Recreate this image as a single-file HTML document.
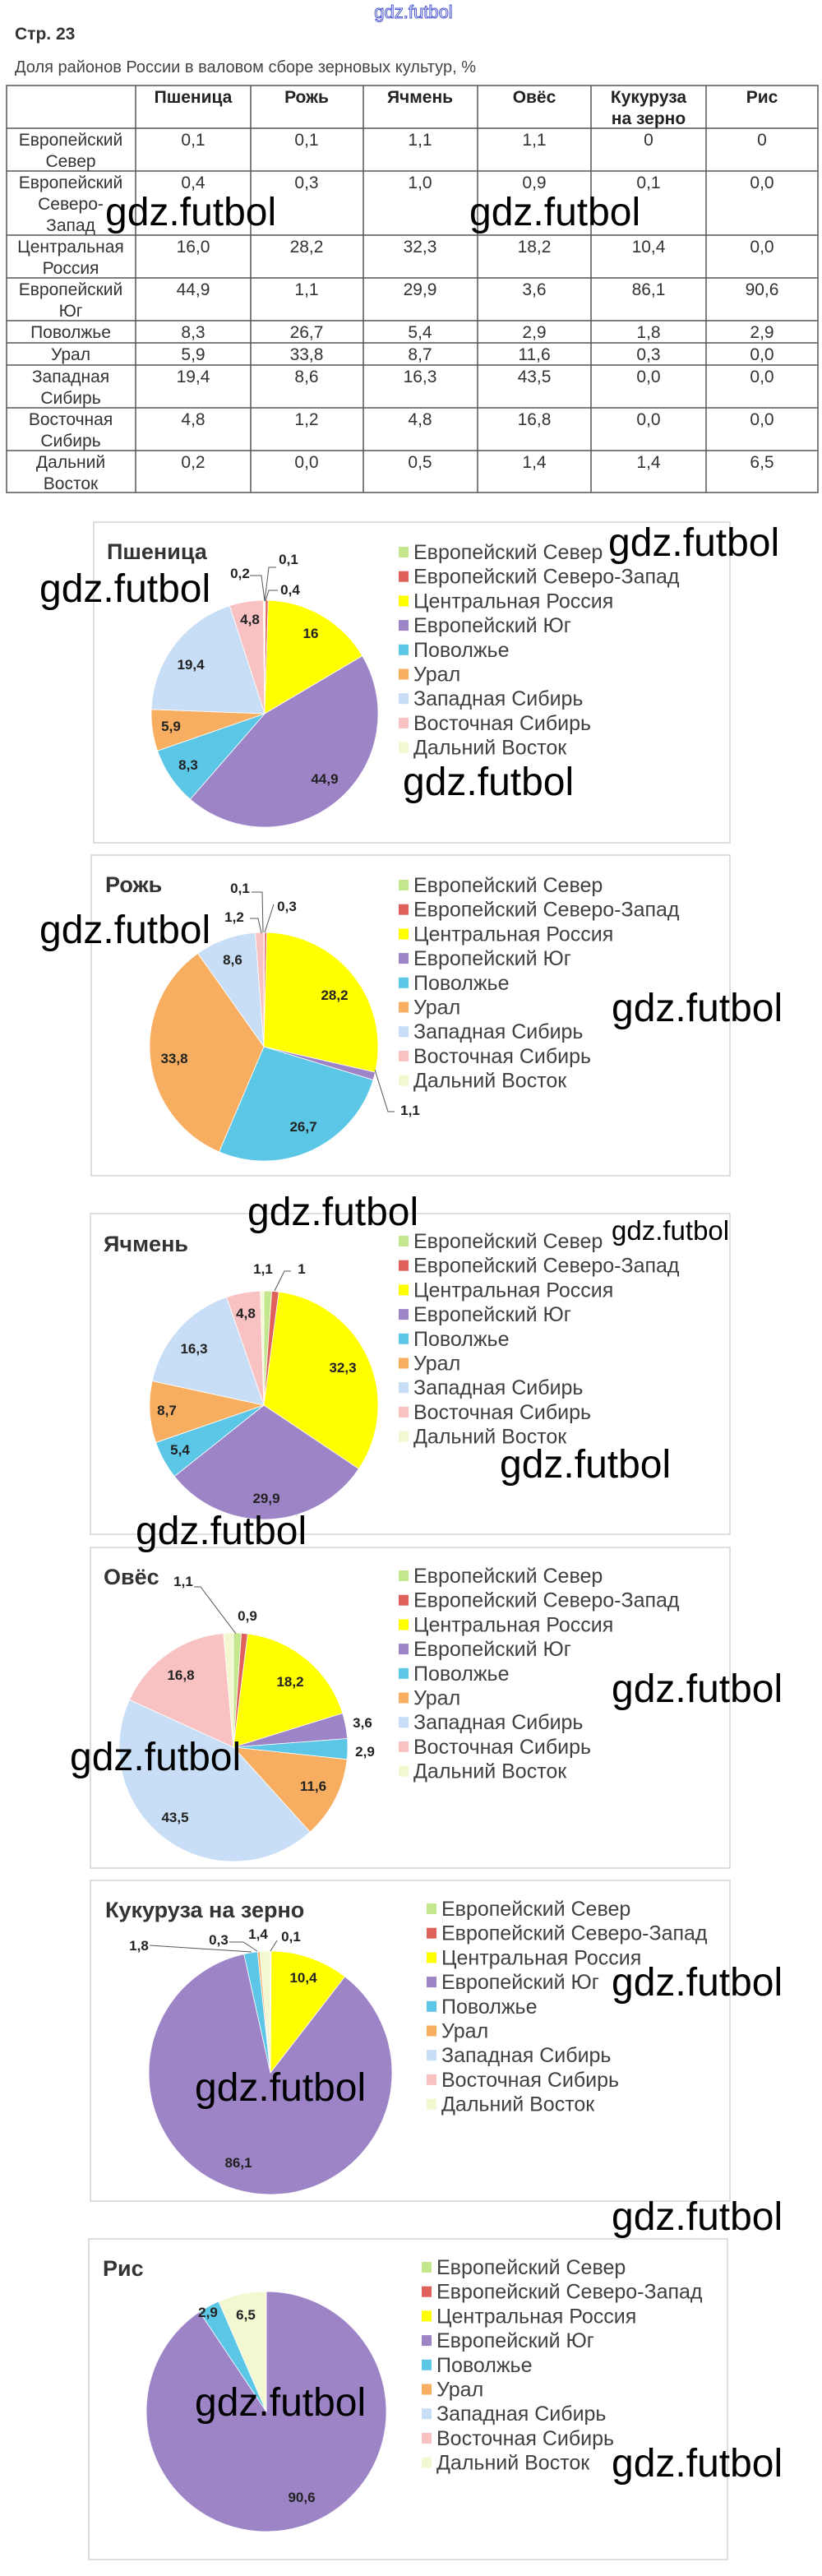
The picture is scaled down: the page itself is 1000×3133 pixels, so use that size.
<!DOCTYPE html>
<html><head><meta charset="utf-8">
<style>
html,body{margin:0;padding:0;background:#fff;}
svg{display:block;}
.t{font-family:"Liberation Sans","DejaVu Sans",sans-serif;}
.tb{font-family:"Liberation Sans","DejaVu Sans",sans-serif;font-size:21px;fill:#333;text-anchor:middle;}
.th{font-family:"Liberation Sans","DejaVu Sans",sans-serif;font-size:21px;fill:#222;text-anchor:middle;font-weight:bold;}
.lg{font-family:"Liberation Sans","DejaVu Sans",sans-serif;font-size:25px;fill:#404040;}
.dl{font-family:"Liberation Sans","DejaVu Sans",sans-serif;font-size:17px;font-weight:bold;fill:#222;text-anchor:middle;}
.ti{font-family:"Liberation Sans","DejaVu Sans",sans-serif;font-size:27px;font-weight:bold;fill:#333;}
.wm{font-family:"Liberation Sans","DejaVu Sans",sans-serif;font-size:48px;fill:#000;}
</style></head>
<body>
<svg id="s" width="1000" height="3133" viewBox="0 0 1000 3133" xmlns="http://www.w3.org/2000/svg">
<rect width="1000" height="3133" fill="#fff"/>
<text x="503" y="22" class="t" font-size="22" fill="#fff" stroke="#4a55d0" stroke-width="1" text-anchor="middle">gdz.futbol</text>
<text x="18" y="48" class="t" font-size="21" font-weight="bold" fill="#333">Стр. 23</text>
<text x="18" y="88" class="t" font-size="20" fill="#444">Доля районов России в валовом сборе зерновых культур, %</text>

<g stroke="#555" stroke-width="1.5" fill="none">
<rect x="8" y="104" width="987" height="495"/>
<line x1="8" y1="156" x2="995" y2="156"/><line x1="8" y1="208" x2="995" y2="208"/>
<line x1="8" y1="286" x2="995" y2="286"/><line x1="8" y1="338" x2="995" y2="338"/>
<line x1="8" y1="390" x2="995" y2="390"/><line x1="8" y1="417" x2="995" y2="417"/>
<line x1="8" y1="444" x2="995" y2="444"/><line x1="8" y1="496" x2="995" y2="496"/>
<line x1="8" y1="548" x2="995" y2="548"/>
<line x1="165" y1="104" x2="165" y2="599"/><line x1="305" y1="104" x2="305" y2="599"/>
<line x1="442" y1="104" x2="442" y2="599"/><line x1="581" y1="104" x2="581" y2="599"/>
<line x1="719" y1="104" x2="719" y2="599"/><line x1="859" y1="104" x2="859" y2="599"/>
</g>
<g id="tbl"></g>

<g id="charts"></g>

<g class="wm">
<text x="128" y="274">gdz.futbol</text>
<text x="571" y="274">gdz.futbol</text>
<text x="48" y="732">gdz.futbol</text>
<text x="740" y="676">gdz.futbol</text>
<text x="490" y="967">gdz.futbol</text>
<text x="48" y="1147">gdz.futbol</text>
<text x="744" y="1242">gdz.futbol</text>
<text x="301" y="1490">gdz.futbol</text>
<text x="744" y="1508" font-size="33">gdz.futbol</text>
<text x="608" y="1797">gdz.futbol</text>
<text x="165" y="1878">gdz.futbol</text>
<text x="744" y="2070">gdz.futbol</text>
<text x="85" y="2153">gdz.futbol</text>
<text x="744" y="2427">gdz.futbol</text>
<text x="237" y="2555">gdz.futbol</text>
<text x="744" y="2712">gdz.futbol</text>
<text x="237" y="2938">gdz.futbol</text>
<text x="744" y="3012">gdz.futbol</text>
</g>
</svg>
<script>
var NS="http://www.w3.org/2000/svg";
function el(p,tag,a,txt){var e=document.createElementNS(NS,tag);for(var k in a)e.setAttribute(k,a[k]);if(txt!=null)e.textContent=txt;p.appendChild(e);return e;}
var tb=document.getElementById('tbl');
var cx=[86,235,373,511,650,789,927];
var hdr=[[],["Пшеница"],["Рожь"],["Ячмень"],["Овёс"],["Кукуруза","на зерно"],["Рис"]];
hdr.forEach(function(h,i){h.forEach(function(s,j){el(tb,'text',{x:cx[i],y:125+j*26,'class':'th'},s);});});
var rows=[
[156,["Европейский","Север"],["0,1","0,1","1,1","1,1","0","0"]],
[208,["Европейский","Северо-","Запад"],["0,4","0,3","1,0","0,9","0,1","0,0"]],
[286,["Центральная","Россия"],["16,0","28,2","32,3","18,2","10,4","0,0"]],
[338,["Европейский","Юг"],["44,9","1,1","29,9","3,6","86,1","90,6"]],
[390,["Поволжье"],["8,3","26,7","5,4","2,9","1,8","2,9"]],
[417,["Урал"],["5,9","33,8","8,7","11,6","0,3","0,0"]],
[444,["Западная","Сибирь"],["19,4","8,6","16,3","43,5","0,0","0,0"]],
[496,["Восточная","Сибирь"],["4,8","1,2","4,8","16,8","0,0","0,0"]],
[548,["Дальний","Восток"],["0,2","0,0","0,5","1,4","1,4","6,5"]]];
rows.forEach(function(r){var y=r[0]+21;r[1].forEach(function(s,j){el(tb,'text',{x:86,y:y+j*26,'class':'tb'},s);});
r[2].forEach(function(s,i){el(tb,'text',{x:cx[i+1],y:y,'class':'tb'},s);});});

var names=["Европейский Север","Европейский Северо-Запад","Центральная Россия","Европейский Юг","Поволжье","Урал","Западная Сибирь","Восточная Сибирь","Дальний Восток"];
var cols=["#c4e68c","#e0605c","#ffff00","#9d84c6","#5cc6e6","#f8ae60","#c8ddf6","#f9c2c2","#f3f8d0"];
var charts=[
{t:"Пшеница",tx:130,ty:680,box:[114,635,774,390],c:[322,868,138],lx:485,ly:672,
 d:[0.1,0.4,16,44.9,8.3,5.9,19.4,4.8,0.2],
 L:[["16",378,776],["44,9",395,953],["8,3",229,936],["5,9",208,889],["19,4",232,814],["4,8",304,759],["0,2",292,703],["0,1",351,686],["0,4",353,723]],
 ln:[[322,731,327,690,336,690],[322,731,318,700,304,700],[323,731,327,718,338,718]]},
{t:"Рожь",tx:128,ty:1085,box:[111,1040,777,390],c:[321,1273,139],lx:485,ly:1077,
 d:[0.1,0.3,28.2,1.1,26.7,33.8,8.6,1.2,0],
 L:[["0,1",292,1086],["0,3",349,1108],["1,2",285,1121],["8,6",283,1173],["28,2",407,1216],["33,8",212,1293],["26,7",369,1376],["1,1",499,1356]],
 ln:[[320,1134,319,1085,306,1085],[322,1134,333,1100],[318,1135,314,1117,304,1117],[456,1301,472,1352,480,1352]]},
{t:"Ячмень",tx:126,ty:1522,box:[110,1476,778,390],c:[321,1709,139],lx:485,ly:1510,
 d:[1.1,1.0,32.3,29.9,5.4,8.7,16.3,4.8,0.5],
 L:[["1,1",320,1549],["1",367,1549],["4,8",299,1603],["16,3",236,1646],["32,3",417,1669],["8,7",203,1721],["5,4",219,1769],["29,9",324,1828]],
 ln:[[334,1570,346,1546,354,1546]]},
{t:"Овёс",tx:126,ty:1927,box:[110,1882,778,390],c:[284,2125,139],lx:485,ly:1917,
 d:[1.1,0.9,18.2,3.6,2.9,11.6,43.5,16.8,1.4],
 L:[["1,1",223,1929],["0,9",301,1971],["16,8",220,2043],["18,2",353,2051],["3,6",441,2101],["2,9",444,2136],["11,6",381,2178],["43,5",213,2216]],
 ln:[[236,1930,244,1930,287,1987]]},
{t:"Кукуруза на зерно",tx:128,ty:2332,box:[110,2287,778,390],c:[329,2521,148],lx:519,ly:2322,
 d:[0,0.1,10.4,86.1,1.8,0.3,0,0,1.4],
 L:[["1,8",169,2372],["0,3",266,2365],["1,4",314,2358],["0,1",354,2361],["10,4",369,2411],["86,1",290,2636]],
 ln:[[182,2366,306,2374],[279,2362,296,2362,313,2373],[329,2373,337,2360]]},
{t:"Рис",tx:125,ty:2768,box:[108,2723,777,390],c:[324,2933,146],lx:513,ly:2758,
 d:[0,0,0,90.6,2.9,0,0,0,6.5],
 L:[["2,9",253,2818],["6,5",299,2821],["90,6",367,3043]],ln:[]}
];
var g=document.getElementById('charts');
charts.forEach(function(ch){
 var b=ch.box;el(g,'rect',{x:b[0],y:b[1],width:b[2],height:b[3],fill:'#fff',stroke:'#d4d4d4','stroke-width':1.5});
 el(g,'text',{x:ch.tx,y:ch.ty,'class':'ti'},ch.t);
 var sum=ch.d.reduce(function(a,c){return a+c;},0),a=0,cx=ch.c[0],cy=ch.c[1],r=ch.c[2];
 ch.d.forEach(function(v,i){if(v<=0)return;var a0=a/sum*2*Math.PI;a+=v;var a1=a/sum*2*Math.PI;
  var x0=cx+r*Math.sin(a0),y0=cy-r*Math.cos(a0),x1=cx+r*Math.sin(a1),y1=cy-r*Math.cos(a1);
  var lg=(a1-a0)>Math.PI?1:0;
  el(g,'path',{d:'M'+cx+','+cy+' L'+x0.toFixed(2)+','+y0.toFixed(2)+' A'+r+','+r+' 0 '+lg+' 1 '+x1.toFixed(2)+','+y1.toFixed(2)+' Z',fill:cols[i],stroke:'#fff','stroke-width':0.8});});
 ch.ln.forEach(function(p){var s='M'+p[0]+','+p[1];for(var k=2;k<p.length;k+=2)s+=' L'+p[k]+','+p[k+1];el(g,'path',{d:s,fill:'none',stroke:'#555','stroke-width':1});});
 ch.L.forEach(function(l){el(g,'text',{x:l[1],y:l[2],'class':'dl'},l[0]);});
 names.forEach(function(n,i){var y=ch.ly+i*29.7;el(g,'rect',{x:ch.lx,y:y-7,width:12,height:13,fill:cols[i]});
  el(g,'text',{x:ch.lx+18,y:y+8,'class':'lg'},n);});
});
</script>
</body></html>
